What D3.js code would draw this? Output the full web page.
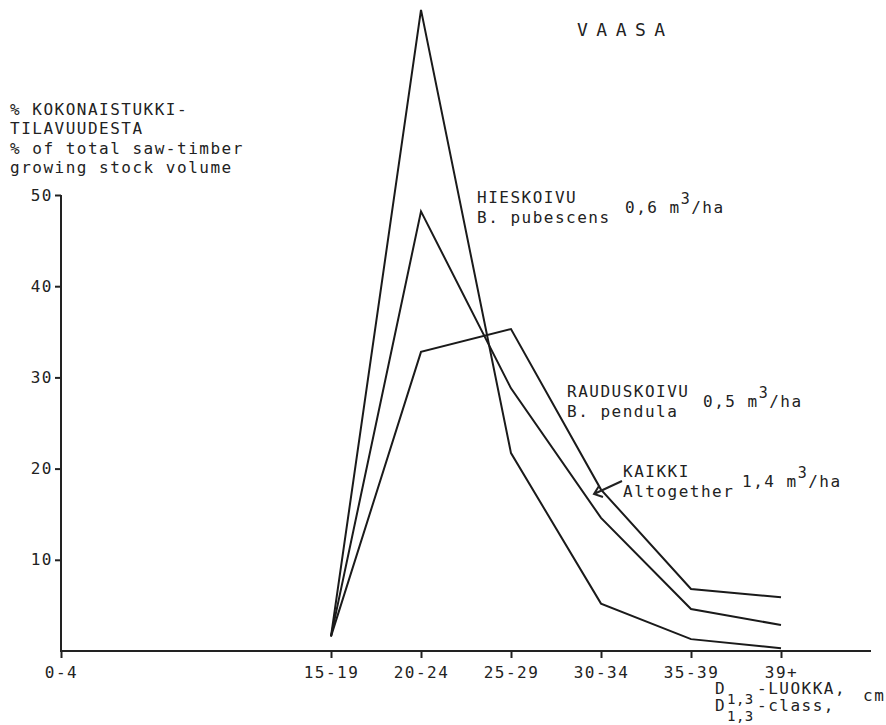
<!DOCTYPE html>
<html>
<head>
<meta charset="utf-8">
<script src="https://cdn.jsdelivr.net/npm/d3@7"></script>
<style>
body { margin: 0; background: #fff; }
text { font-family: "DejaVu Sans Mono", monospace; fill: #222; }
</style>
</head>
<body>
<script>
var w = 886;
var h = 725;
var svg;

// ---- data ----
var classes = ["0-4", "5-9", "10-14", "15-19", "20-24", "25-29", "30-34", "35-39", "39+"];
var tickClasses = ["0-4", "15-19", "20-24", "25-29", "30-34", "35-39", "39+"];
var lineClasses = ["15-19", "20-24", "25-29", "30-34", "35-39", "39+"];
var hieskoivu = [1.6, 70.3, 21.7, 5.2, 1.3, 0.3];
var rauduskoivu = [1.6, 32.8, 35.3, 17.7, 6.8, 5.9];
var kaikki = [1.6, 48.2, 28.8, 14.6, 4.6, 2.85];
var yTicks = [10, 20, 30, 40, 50];

var x = d3.scalePoint().domain(classes).range([61, 781]);
var y = d3.scaleLinear().domain([0, 50]).range([651, 195]);

drawContent();

function drawContent(){
    svg = d3.select("body")
        .append("svg")
        .attr("width", w)
        .attr("height", h);

    //----axes-----
    var yAxis = svg.append("g")
        .attr("transform", "translate(" + x("0-4") + ",0)")
        .call(d3.axisLeft(y).tickValues(yTicks).tickSize(6).tickSizeOuter(0).tickPadding(2));
    yAxis.select(".domain").remove();

    var xAxis = svg.append("g")
        .attr("transform", "translate(0," + y(0) + ")")
        .call(d3.axisBottom(x).tickValues(tickClasses).tickSize(7).tickSizeOuter(0).tickPadding(8));
    xAxis.select(".domain").remove();

    svg.selectAll(".tick line").attr("stroke", "#222").attr("stroke-width", 2);
    svg.selectAll(".tick text")
        .attr("font-size", 16)
        .attr("letter-spacing", 1.5)
        .attr("font-family", "DejaVu Sans Mono")
        .attr("fill", "#222");
    xAxis.selectAll(".tick text").attr("dy", "0.75em");

    svg.append("line")
        .attr("x1", x("0-4")).attr("y1", y(0))
        .attr("x2", x("39+") + x.step()).attr("y2", y(0))
        .attr("stroke", "#222").attr("stroke-width", 2);
    svg.append("line")
        .attr("x1", x("0-4")).attr("y1", y(0) + 1)
        .attr("x2", x("0-4")).attr("y2", y(50))
        .attr("stroke", "#222").attr("stroke-width", 2);

    //----lines-----
    var line = d3.line()
        .x(function(d, i){ return x(lineClasses[i]); })
        .y(function(d){ return y(d); });

    [hieskoivu, rauduskoivu, kaikki].forEach(function(s){
        svg.append("path")
            .attr("d", line(s))
            .attr("fill", "none")
            .attr("stroke", "#1a1a1a")
            .attr("stroke-width", 2)
            .attr("stroke-linejoin", "miter");
    });

    //----text-----
    svg.append("text")
        .text("VAASA")
        .attr("x", 577)
        .attr("y", 36)
        .attr("font-size", 18)
        .attr("letter-spacing", 8.5);

    var yTitle = ["% KOKONAISTUKKI-", "TILAVUUDESTA", "% of total saw-timber", "growing stock volume"];
    yTitle.forEach(function(t, i){
        svg.append("text")
            .text(t)
            .attr("x", 10)
            .attr("y", 115 + i * 19.3)
            .attr("font-size", 16)
            .attr("letter-spacing", 1.5);
    });

    label(477, 203, "HIESKOIVU", "B. pubescens", 625, "0,6");
    label(567, 397, "RAUDUSKOIVU", "B. pendula", 703, "0,5");
    label(623, 477, "KAIKKI", "Altogether", 742, "1,4");

    // arrow to the KAIKKI line
    svg.append("path")
        .attr("d", "M622,481 L594,494 M599,486 L594,494 L603,497")
        .attr("fill", "none")
        .attr("stroke", "#222")
        .attr("stroke-width", 2);

    //----x axis title-----
    classLine(694, "-LUOKKA,");
    classLine(711, "-class,");
    svg.append("text")
        .text("cm")
        .attr("x", 863)
        .attr("y", 701)
        .attr("font-size", 16)
        .attr("letter-spacing", 1.5);
}

function label(lx, ly, name1, name2, vx, vol){
    svg.append("text").text(name1)
        .attr("x", lx).attr("y", ly)
        .attr("font-size", 16).attr("letter-spacing", 1.5);
    svg.append("text").text(name2)
        .attr("x", lx).attr("y", ly + 20)
        .attr("font-size", 16).attr("letter-spacing", 1.5);
    var t = svg.append("text")
        .attr("x", vx).attr("y", ly + 10)
        .attr("font-size", 16).attr("letter-spacing", 1.5);
    t.append("tspan").text(vol + " m");
    t.append("tspan").text("3").attr("dy", -9).attr("font-size", 15);
    t.append("tspan").text("/ha").attr("dy", 9);
}

function classLine(by, rest){
    var t = svg.append("text")
        .attr("y", by)
        .attr("font-size", 16)
        .attr("letter-spacing", 1.5);
    t.append("tspan").text("D").attr("x", 715);
    t.append("tspan").text("1,3").attr("x", 727).attr("dy", 10)
        .attr("font-size", 14).attr("letter-spacing", 0.5);
    t.append("tspan").text(rest).attr("x", 757).attr("dy", -10);
}
</script>
</body>
</html>
